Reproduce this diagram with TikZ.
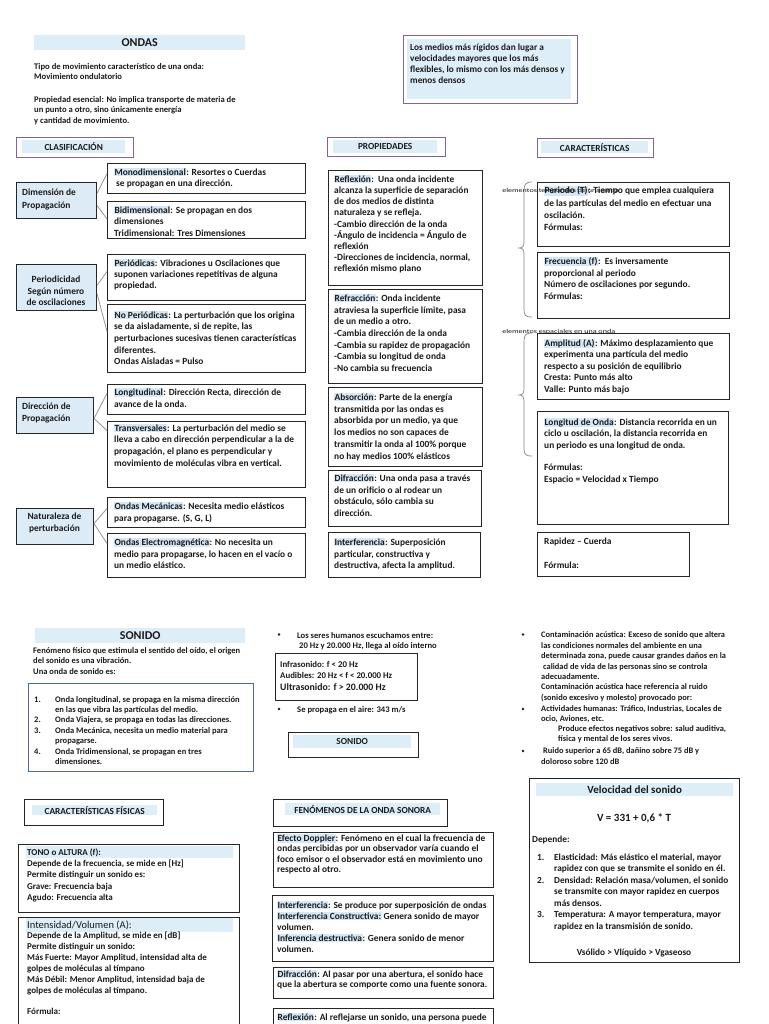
\documentclass[tikz,border=0pt]{standalone}
\usepackage{fontspec}
\setmainfont{Carlito}
\definecolor{band}{HTML}{DDEEF9}
\definecolor{lblue}{HTML}{DDEBF7}
\definecolor{hlc}{HTML}{D6E8F7}
\definecolor{purp}{HTML}{8064A2}
\definecolor{boxc}{HTML}{262626}
\definecolor{conn}{HTML}{A6A6A6}
\definecolor{slate}{HTML}{4F6D8F}
\definecolor{txtc}{HTML}{1A1A1A}
\pgfdeclarelayer{bg}
\pgfsetlayers{bg,main}
\newcommand\hl[1]{{\setlength\fboxsep{0.4pt}\colorbox{hlc}{#1}}}
\newcommand\tb[6]{\node[tx, font=\bfseries\fontsize{#1}{#2}\selectfont] (#3) at (#4,{#5+0.33*#1-0.7*#2}) {\strut #6};}
\newcommand\bx[6][box]{\node[#1, minimum width=#5pt, minimum height=#6pt] (#2) at (#3,#4) {};}
\tikzset{
 box/.style={draw=boxc, line width=1pt, fill=white, anchor=north west, inner sep=0pt},
 cbox/.style={box, fill=lblue},
 pbox/.style={draw=purp, line width=1pt, fill=white, anchor=north west, inner sep=0pt},
 sbox/.style={draw=slate, line width=0.8pt, fill=white, anchor=north west, inner sep=0pt},
 bandbox/.style={fill=band, anchor=north west, inner sep=0pt},
 tx/.style={anchor=north west, inner sep=0pt, align=left, text=txtc},
 tc/.style={anchor=center, inner sep=0pt, align=center, text=txtc},
 cn/.style={draw=conn, line width=1pt},
 thin/.style={draw=conn!90!black, line width=0.8pt},
 brace/.style={draw=conn!80!black, line width=0.7pt},
 hdr/.style={tc, font=\bfseries\fontsize{9.3}{10}\selectfont},
 blab/.style={anchor=west, inner sep=0pt, text=txtc, font=\fontsize{6}{7}\selectfont, xscale=1.35, transform shape},
}
\begin{document}
\begin{tikzpicture}[x=1pt,y=-1pt]
\useasboundingbox (0,0) rectangle (768,1024);
\fill[white] (0,0) rectangle (768,1024);
\coordinate (cv) at (26,0);
\coordinate (cv2) at (548,0);
\coordinate (cv3) at (28,0);
\coordinate (cv4) at (295,0);
\coordinate (cv5) at (308,0);
\coordinate (hy) at (0,364);
\coordinate (sfork) at (296,766);

% ---------------- ONDAS ----------------
\node[bandbox, minimum width=211pt, minimum height=15pt] (ondasband) at (34,35) {};
\node[tc, font=\bfseries\fontsize{12}{14}\selectfont] (ondas) at (ondasband.center) {ONDAS};
\tb{8.6}{10.5}{intro1}{34}{66}{Tipo de movimiento característico de una onda:\\Movimiento ondulatorio}
\tb{8.6}{10.5}{intro2}{34}{99}{Propiedad esencial: No implica transporte de materia de\\un punto a otro, sino únicamente energía\\y cantidad de movimiento.}

\node[pbox, minimum width=174pt, minimum height=68pt] (medios) at (403,35) {};
\node[bandbox, minimum width=164pt, minimum height=60pt] (mediosband) at (407,39) {};
\tb{9.3}{11}{mediost}{410}{47}{Los medios más rígidos dan lugar a\\velocidades mayores que los más\\flexibles, lo mismo con los más densos y\\menos densos}

% ---------------- CLASIFICACION ----------------
\node[pbox, minimum width=117pt, minimum height=20pt] (clas) at (16,137) {};
\node[bandbox, minimum width=103pt, minimum height=13pt] (clasband) at (22,140) {};
\node[hdr] (clast) at (clasband.center) {CLASIFICACIÓN};

\bx[cbox]{dim}{16}{182}{80}{36}
\tb{9.4}{12.5}{dimt}{22}{192.5}{Dimensión de\\Propagación}
\bx[cbox]{per}{16}{264}{80}{46}
\node[tc, font=\bfseries\fontsize{9.4}{11.5}\selectfont] (pert) at (56,291) {Periodicidad\\Según número\\de oscilaciones};
\bx[cbox]{dir}{16}{397}{77}{36}
\tb{9.4}{12}{dirt}{22}{406}{Dirección de\\Propagación}
\bx[cbox]{nat}{16}{508}{77}{36}
\node[tc, font=\bfseries\fontsize{9.4}{12}\selectfont] (natt) at (54.5,523) {Naturaleza de\\perturbación};

\bx{mono}{107}{163}{198}{30}
\tb{9.4}{11.5}{monot}{114}{172}{\hl{Monodimensional}: Resortes o Cuerdas\\\hspace*{2pt}se propagan en una dirección.}
\bx{bi}{107}{201}{198}{37}
\tb{9.4}{11.5}{bit}{114}{210}{\hl{Bidimensional}: Se propagan en dos\\dimensiones\\Tridimensional: Tres Dimensiones}
\bx{peri}{107}{254}{198}{46}
\tb{9.4}{11}{perit}{114}{263}{\hl{Periódicas}: Vibraciones u Oscilaciones que\\suponen variaciones repetitivas de alguna\\propiedad.}
\bx{noper}{107}{304}{198}{68}
\tb{9.4}{11.6}{nopert}{114}{315}{\hl{No Periódicas}: La perturbación que los origina\\se da aisladamente, si de repite, las\\perturbaciones sucesivas tienen características\\diferentes.\\Ondas Aisladas = Pulso}
\bx{long}{107}{384}{198}{30}
\tb{9.4}{12}{longt}{114}{392}{\hl{Longitudinal}: Dirección Recta, dirección de\\avance de la onda.}
\bx{trans}{107}{421}{198}{66}
\tb{9.4}{11.6}{transt}{114}{428}{\hl{Transversales}: La perturbación del medio se\\lleva a cabo en dirección perpendicular a la de\\propagación, el plano es perpendicular y\\movimiento de moléculas vibra en vertical.}
\bx{mec}{107}{497}{198}{30}
\tb{9.4}{12}{mect}{114}{506}{\hl{Ondas Mecánicas}: Necesita medio elásticos\\para propagarse. (S, G, L)}
\bx{elec}{107}{533}{198}{44}
\tb{9.4}{11.8}{elect}{114}{542}{\hl{Ondas Electromagnética}: No necesita un\\medio para propagarse, lo hacen en el vacío o\\un medio elástico.}

\draw[thin] ([yshift=7pt]dim.east) -- ([yshift=5pt]mono.west);
\draw[thin] ([yshift=-5pt]dim.east) -- ([yshift=1pt]bi.west);
\draw[thin] ([yshift=2pt]per.east) -- ([yshift=6pt]peri.west);
\draw[thin] ([yshift=-6pt]per.east) -- ([yshift=7pt]noper.west);
\draw[thin] ([yshift=-3pt]dir.east) -- ([yshift=6pt]long.west);
\draw[thin] ([yshift=-3pt]dir.east) -- ([yshift=24pt]trans.west);
\draw[thin] ([yshift=3pt]nat.east) -- ([yshift=4pt]mec.west);
\draw[thin] ([yshift=3pt]nat.east) -- ([yshift=12pt]elec.west);

% ---------------- PROPIEDADES ----------------
\node[pbox, minimum width=118pt, minimum height=19pt] (prop) at (327,137) {};
\node[bandbox, minimum width=104pt, minimum height=13pt] (propband) at (333,140) {};
\node[hdr] (propt) at (propband.center) {PROPIEDADES};

\bx{refl}{328}{170}{154}{115}
\tb{9.4}{11.2}{reflt}{334}{179}{\hl{Reflexión}:\ \ Una onda incidente\\alcanza la superficie de separación\\de dos medios de distinta\\naturaleza y se refleja.\\-Cambio dirección de la onda\\-Ángulo de incidencia = Ángulo de\\reflexión\\-Direcciones de incidencia, normal,\\reflexión mismo plano}
\bx{refr}{328}{289}{154}{94}
\tb{9.4}{11.7}{refrt}{334}{298}{\hl{Refracción}: Onda incidente\\atraviesa la superficie límite, pasa\\de un medio a otro.\\-Cambia dirección de la onda\\-Cambia su rapidez de propagación\\-Cambia su longitud de onda\\-No cambia su frecuencia}
\bx{abs}{328}{387}{154}{79}
\tb{9.4}{11.8}{abst}{334}{397}{\hl{Absorción}: Parte de la energía\\transmitida por las ondas es\\absorbida por un medio, ya que\\los medios no son capaces de\\transmitir la onda al 100\% porque\\no hay medios 100\% elásticos}
\bx{dif}{328}{470}{153}{56}
\tb{9.4}{11.7}{dift}{334}{478}{\hl{Difracción}: Una onda pasa a través\\de un orificio o al rodear un\\obstáculo, sólo cambia su\\dirección.}
\bx{int}{328}{532}{152}{45}
\tb{9.4}{11.8}{intt}{334}{542}{\hl{Interferencia}: Superposición\\particular, constructiva y\\destructiva, afecta la amplitud.}

% ---------------- CARACTERISTICAS ----------------
\node[pbox, minimum width=116pt, minimum height=19pt] (car) at (537,138) {};
\node[bandbox, minimum width=107pt, minimum height=12pt] (carband) at (541,141) {};
\node[hdr] (cart) at (carband.center) {CARACTERÍSTICAS};

\bx{pt}{537}{182}{192}{64}
\tb{9.4}{12.3}{ptt}{544}{190.5}{\hl{Periodo (T)}: Tiempo que emplea cualquiera\\de las partículas del medio en efectuar una\\oscilación.\\Fórmulas:}
\bx{fr}{537}{252}{192}{66}
\tb{9.4}{11.7}{frt}{544}{261}{\hl{Frecuencia (f)}:\ \ Es inversamente\\proporcional al periodo\\Número de oscilaciones por segundo.\\Fórmulas:}
\bx{am}{537}{333}{192}{66}
\tb{9.4}{11.5}{amt}{544}{343}{\hl{Amplitud (A)}: Máximo desplazamiento que\\experimenta una partícula del medio\\respecto a su posición de equilibrio\\Cresta: Punto más alto\\Valle: Punto más bajo}
\bx{lo}{537}{411}{191}{113}
\tb{9.4}{11.4}{lot}{544}{422}{\hl{Longitud de Onda}: Distancia recorrida en un\\ciclo u oscilación, la distancia recorrida en\\un periodo es una longitud de onda.\\\mbox{}\\Fórmulas:\\Espacio = Velocidad x Tiempo}
\bx{ra}{537}{532}{152}{44}
\tb{9.4}{12}{rat}{544}{541}{Rapidez -- Cuerda\\\mbox{}\\Fórmula:}

\draw[brace] (532,182) .. controls (525,182) and (524,185) .. (524,191) -- (524,241) .. controls (524,246) and (523,248) .. (519,248) .. controls (523,248) and (524,250) .. (524,255) -- (524,309) .. controls (524,315) and (525,317) .. (532,317);
\draw[brace] (532,333) .. controls (525,333) and (524,336) .. (524,342) -- (524,388) .. controls (524,393) and (523,395) .. (519,395) .. controls (523,395) and (524,397) .. (524,402) -- (524,448) .. controls (524,454) and (525,456) .. (532,456);
\node[blab] (lab1) at (502,191) {elementos temporales de una onda};
\node[blab] (lab2) at (502,332) {elementos espaciales en una onda};

% ---------------- SONIDO ----------------
\node[bandbox, minimum width=210pt, minimum height=15pt] (sonband) at (35,628) {};
\node[tc, font=\bfseries\fontsize{12}{14}\selectfont] (sont) at (sonband.center) {SONIDO};
\tb{8.5}{10.5}{sonintro}{33}{650}{Fenómeno físico que estimula el sentido del oído, el origen\\del sonido es una vibración.\\Una onda de sonido es:}
\node[sbox, minimum width=225pt, minimum height=88pt] (lista) at (28,683) {};
\tb{8.5}{10.4}{listat}{34}{699}{\makebox[21pt][l]{1.}Onda longitudinal, se propaga en la misma dirección\\\hspace*{21pt}en las que vibra las partículas del medio.\\\makebox[21pt][l]{2.}Onda Viajera, se propaga en todas las direcciones.\\\makebox[21pt][l]{3.}Onda Mecánica, necesita un medio material para\\\hspace*{21pt}propagarse.\\\makebox[21pt][l]{4.}Onda Tridimensional, se propagan en tres\\\hspace*{21pt}dimensiones.}

\fill[txtc] (279,634.5) circle (1.3pt);
\tb{8.6}{10.2}{hum}{297}{635}{Los seres humanos escuchamos entre:\\\hspace*{2pt}20 Hz y 20.000 Hz, llega al oído interno}
\bx{freq}{275}{653}{142}{47}
\tb{8.8}{11.5}{freqt}{280}{664}{Infrasonido: f < 20 Hz\\Audibles: 20 Hz < f < 20.000 Hz\\{\fontsize{9.8}{11.5}\selectfont Ultrasonido: f > 20.000 Hz}}
\fill[txtc] (279,709) circle (1.3pt);
\tb{8.6}{10}{aire}{297}{709}{Se propaga en el aire: 343 m/s}

\bx{son}{288}{732}{130}{25}
\node[bandbox, minimum width=118pt, minimum height=13pt] (sonb2) at (293,735) {};
\node[hdr] (sont2) at (sonb2.center) {SONIDO};

\fill[txtc] (523,634.5) circle (1.3pt);
\tb{8.4}{10.35}{cont1}{541}{635}{Contaminación acústica: Exceso de sonido que altera\\las condiciones normales del ambiente en una\\determinada zona, puede causar grandes daños en la\\\hspace*{2pt}calidad de vida de las personas sino se controla\\adecuadamente.\\Contaminación acústica hace referencia al ruido\\(sonido excesivo y molesto) provocado por:}
\fill[txtc] (523,709) circle (1.3pt);
\tb{8.4}{10}{cont2}{541}{709}{Actividades humanas: Tráfico, Industrias, Locales de\\ocio, Aviones, etc.\\\hspace*{17pt}Produce efectos negativos sobre: salud auditiva,\\\hspace*{17pt}física y mental de los seres vivos.}
\fill[txtc] (523,751) circle (1.3pt);
\tb{8.4}{11}{cont3}{543}{751}{Ruido superior a 65 dB, dañino sobre 75 dB y\\\hspace*{-2pt}doloroso sobre 120 dB}

% Caracteristicas fisicas
\bx{cf}{24}{799}{139}{26}
\node[bandbox, minimum width=125pt, minimum height=10pt] (cfb) at (32,805) {};
\node[hdr] (cft) at (cfb.center) {CARACTERÍSTICAS FÍSICAS};
\bx{tono}{18}{844}{221}{68}
\node[bandbox, minimum width=207pt, minimum height=12pt] (tonob) at (26,846) {};
\tb{9}{11.4}{tonot}{27}{852}{TONO o ALTURA (f):\\Depende de la frecuencia, se mide en [Hz]\\Permite distinguir un sonido es:\\Grave: Frecuencia baja\\Agudo: Frecuencia alta}
\bx{intens}{18}{917}{221}{130}
\node[bandbox, minimum width=207pt, minimum height=14pt] (intb) at (26,918) {};
\node[tx, font=\fontsize{10.5}{13}\selectfont, anchor=west] (intt) at (27,925) {Intensidad/Volumen (A):};
\tb{9}{10.9}{intbody}{27}{935.5}{Depende de la Amplitud, se mide en [dB]\\Permite distinguir un sonido:\\Más Fuerte: Mayor Amplitud, intensidad alta de\\golpes de moléculas al tímpano\\Más Débil: Menor Amplitud, intensidad baja de\\golpes de moléculas al tímpano.\\\mbox{}\\Fórmula:}

% Fenomenos
\bx{fen}{273}{799}{174}{27}
\node[bandbox, minimum width=155pt, minimum height=12pt] (fenb) at (285,803) {};
\node[hdr] (fent) at (fenb.center) {FENÓMENOS DE LA ONDA SONORA};
\bx{dop}{273}{832}{220}{55}
\tb{9.4}{10.4}{dopt}{277}{838}{\hl{Efecto Doppler}: Fenómeno en el cual la frecuencia de\\ondas percibidas por un observador varía cuando el\\foco emisor o el observador está en movimiento uno\\respecto al otro.}
\bx{sint}{272}{895}{221}{66}
\tb{9.4}{11}{sintt}{277}{905}{\hl{Interferencia}: Se produce por superposición de ondas\\\hl{Interferencia Constructiva:} Genera sonido de mayor\\volumen.\\\hl{Inferencia destructiva}: Genera sonido de menor\\volumen.}
\bx{sdif}{273}{967}{220}{31}
\tb{9.4}{10.5}{sdift}{277}{974}{\hl{Difracción}: Al pasar por una abertura, el sonido hace\\que la abertura se comporte como una fuente sonora.}
\bx{srefl}{273}{1008}{220}{40}
\tb{9.4}{10.5}{sreflt}{277}{1017}{\hl{Reflexión}: Al reflejarse un sonido, una persona puede}

% Velocidad
\bx{vel}{529}{778}{210}{184}
\node[bandbox, minimum width=197pt, minimum height=13pt] (velb) at (536,783) {};
\node[tc, font=\bfseries\fontsize{11}{13}\selectfont] (velt) at (velb.center) {Velocidad del sonido};
\node[tc, font=\bfseries\fontsize{11}{13}\selectfont] (form) at (634,818) {V = 331 + 0,6 * T};
\tb{9.3}{11}{dep}{532}{839}{Depende:}
\tb{9.3}{11.5}{velitems}{537}{857}{\makebox[17pt][l]{1.}Elasticidad: Más elástico el material, mayor\\\hspace*{17pt}rapidez con que se transmite el sonido en él.\\\makebox[17pt][l]{2.}Densidad: Relación masa/volumen, el sonido\\\hspace*{17pt}se transmite con mayor rapidez en cuerpos\\\hspace*{17pt}más densos.\\\makebox[17pt][l]{3.}Temperatura: A mayor temperatura, mayor\\\hspace*{17pt}rapidez en la transmisión de sonido.}
\node[tc, font=\bfseries\fontsize{9.3}{11}\selectfont] (vcomp) at (634,953) {Vsólido > Vlíquido > Vgaseoso};

% ---------------- background connectors ----------------
\begin{pgfonlayer}{bg}
\draw[cn] (clas.south -| cv) -- (nat.north -| cv);
\draw[cn] (noper.east |- hy) -- (am.west |- hy);
\draw[cn] (car.south -| cv2) -- (lo.north -| cv2);
\draw[cn] (cf.south -| cv3) -- (intens.north -| cv3);
\draw[cn] (fen.south -| cv4) -- (srefl.north -| cv4);
\draw[cn] (son.south -| cv5) -- (fen.north -| cv5);
\draw[thin] (son.south east) -- (vel.north west);
\draw[thin] (sfork) -- (cf.north east);
\end{pgfonlayer}
\end{tikzpicture}
\end{document}
